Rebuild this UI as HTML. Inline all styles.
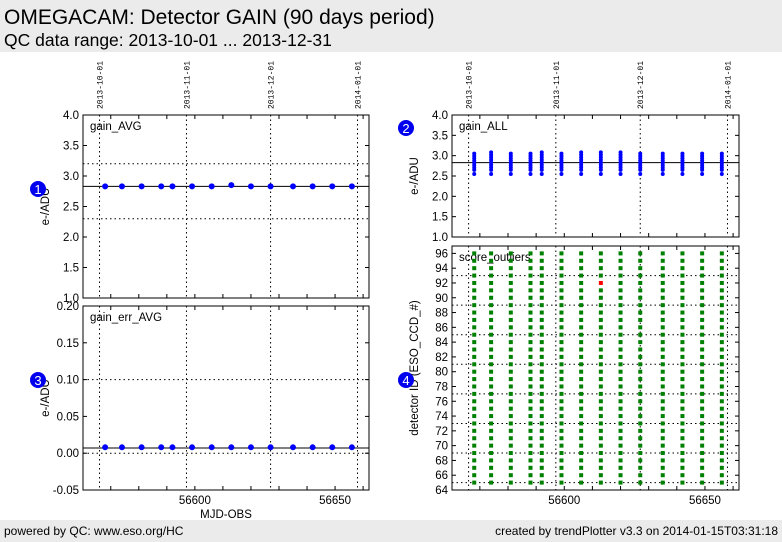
<!DOCTYPE html>
<html><head><meta charset="utf-8"><style>
body{margin:0;width:782px;height:542px;background:#fff;font-family:"Liberation Sans",sans-serif;overflow:hidden;position:relative}
#hdr{position:absolute;left:0;top:0;width:782px;height:52px;background:#ebebeb}
#t1{position:absolute;left:4px;top:6px;font-size:21px}
#t2{position:absolute;left:4px;top:30px;font-size:17.5px}
#ftr{position:absolute;left:0;top:520px;width:782px;height:22px;background:#ebebeb;font-size:12px}
svg{position:absolute;left:0;top:0}
</style></head><body>
<div id="hdr"><div id="t1">OMEGACAM: Detector GAIN (90 days period)</div><div id="t2">QC data range: 2013-10-01 ... 2013-12-31</div></div>
<div id="ftr"><span style="position:absolute;left:4px;top:4px">powered by QC: www.eso.org/HC</span><span style="position:absolute;right:4px;top:4px">created by trendPlotter v3.3 on 2014-01-15T03:31:18</span></div>
<svg id="c" width="782" height="542"></svg>
<script>
const mjd=[56568,56574,56581,56588,56592,56599,56606,56613,56620,56627,56635,56642,56649,56656];
const gainAvg=[2.83,2.83,2.83,2.83,2.83,2.83,2.83,2.85,2.83,2.83,2.83,2.83,2.83,2.83];
const gainErr=[0.008,0.008,0.008,0.008,0.008,0.008,0.008,0.008,0.008,0.008,0.008,0.008,0.008,0.008];
const gainAllMin=[2.55,2.55,2.55,2.55,2.55,2.55,2.55,2.55,2.55,2.55,2.55,2.55,2.55,2.55];
const gainAllMax=[3.05,3.08,3.05,3.05,3.08,3.05,3.08,3.08,3.08,3.05,3.05,3.05,3.05,3.05];
const detectors=[];for(let d=65;d<=96;d++)detectors.push(d);
const outlierMjd=[56613];const outlierDet=[92];
const dateLabels=["2013-10-01","2013-11-01","2013-12-01","2014-01-01"];
const dateMjd=[56566,56597,56627,56658];
const ns="http://www.w3.org/2000/svg",S=document.getElementById('c');
function el(t,a,p){const e=document.createElementNS(ns,t);for(const k in a)e.setAttribute(k,a[k]);(p||S).appendChild(e);return e;}
function txt(s,a){const e=el('text',a);e.textContent=s;return e;}
const X0=56560.1,X1=56662.1;
function panel(name,L,R,T,B,y0,y1,ticks,fmt,label,ylab,opts){
 const sx=v=>L+(v-X0)/(X1-X0)*(R-L), sy=v=>B-(v-y0)/(y1-y0)*(B-T);
 const g=el('g',{});
 dateMjd.forEach(m=>{const l=el('line',{x1:sx(m),x2:sx(m),y1:T,y2:B,stroke:'#000','stroke-dasharray':'1.5,3'},g);});
 (opts.hlines||[]).forEach(h=>{const l=el('line',{x1:L,x2:R,y1:sy(h[0]),y2:sy(h[0]),stroke:'#000','stroke-dasharray':h[1]?'':'1.5,3'},g);});
 el('rect',{x:L,y:T,width:R-L,height:B-T,fill:'none',stroke:'#000'},g);
 ticks.forEach(v=>{const y=sy(v);el('line',{x1:L,x2:L+4,y1:y,y2:y,stroke:'#000'},g);el('line',{x1:R-4,x2:R,y1:y,y2:y,stroke:'#000'},g);
  const t=txt(fmt(v),{x:L-4,y:y+4,'text-anchor':'end','font-size':11.5});});
 for(let m=56570;m<=56660;m+=10){const x=sx(m);el('line',{x1:x,x2:x,y1:B,y2:B-4,stroke:'#000'},g);el('line',{x1:x,x2:x,y1:T,y2:T+4,stroke:'#000'},g);}
 const lt=txt(label,{x:L+7,y:T+15,'font-size':11.5});
 const yl=txt(ylab,{x:0,y:0,'font-size':11.5,'text-anchor':'middle',transform:`translate(${L-34},${(T+B)/2}) rotate(-90)`});
 return {sx,sy,g};
}
function badge(n,x,y){const c=el('circle',{cx:x,cy:y,r:8,fill:'#0000ee'});const t=txt(n,{x:x,y:y+5,'text-anchor':'middle','font-size':13,fill:'#fff'});}
function dateTop(L,R){dateMjd.forEach((m,i)=>{const x=L+(m-X0)/(X1-X0)*(R-L);const t=txt(dateLabels[i],{x:0,y:0,'font-size':8,'font-family':'Liberation Mono,monospace',transform:`translate(${x+3},109) rotate(-90)`});});}
dateTop(83,369);dateTop(452,739);
const f1=v=>v.toFixed(1),f2=v=>v.toFixed(2);
let p=panel('gain-avg',83,369,115,298,1,4,[1,1.5,2,2.5,3,3.5,4],f1,'gain_AVG','e-/ADU',{hlines:[[3.2,0],[2.3,0],[2.83,1]]});
mjd.forEach((m,i)=>{const c=el('circle',{cx:p.sx(m),cy:p.sy(gainAvg[i]),r:3,fill:'#0000ff'});});
p=panel('gain-err',83,369,306,490,-0.05,0.2,[-0.05,0,0.05,0.1,0.15,0.2],f2,'gain_err_AVG','e-/ADU',{hlines:[[0.1,0],[0,0],[0.007,1]]});
mjd.forEach((m,i)=>{const c=el('circle',{cx:p.sx(m),cy:p.sy(gainErr[i]),r:3,fill:'#0000ff'});});
[56600,56650].forEach(v=>{const t=txt(String(v),{x:p.sx(v),y:504,'text-anchor':'middle','font-size':11.5});});
const xt=txt('MJD-OBS',{x:226,y:518,'text-anchor':'middle','font-size':11.5});
p=panel('gain-all',452,739,115,237,1,4,[1,1.5,2,2.5,3,3.5,4],f1,'gain_ALL','e-/ADU',{hlines:[[2.83,1]]});
mjd.forEach((m,i)=>{const lo=gainAllMin[i],hi=gainAllMax[i];const vals=[lo];for(let k=0;k<=7;k++)vals.push(lo+0.1+(hi-lo-0.1)*k/7);
 vals.forEach(v=>{const c=el('circle',{cx:p.sx(m),cy:p.sy(v),r:2,fill:'#0000ff'});});});
p=panel('score-outliers',452,739,246,490,64,97,[64,66,68,70,72,74,76,78,80,82,84,86,88,90,92,94,96],v=>String(v),'score_outliers','detector ID (ESO_CCD_#)',{hlines:[[65,0],[69,0],[73,0],[77,0],[81,0],[85,0],[89,0],[93,0]]});
mjd.forEach(m=>detectors.forEach(d=>{const bad=outlierMjd.includes(m)&&outlierDet[outlierMjd.indexOf(m)]===d;const r=el('rect',{x:p.sx(m)-2,y:p.sy(d)-2,width:4,height:4,fill:bad?'#ff0000':'#008000'});}));
[56600,56650].forEach(v=>{const t=txt(String(v),{x:p.sx(v),y:504,'text-anchor':'middle','font-size':11.5});});
badge('1',38,189);badge('2',406,128);badge('3',38,380);badge('4',406,380);
</script></body></html>
